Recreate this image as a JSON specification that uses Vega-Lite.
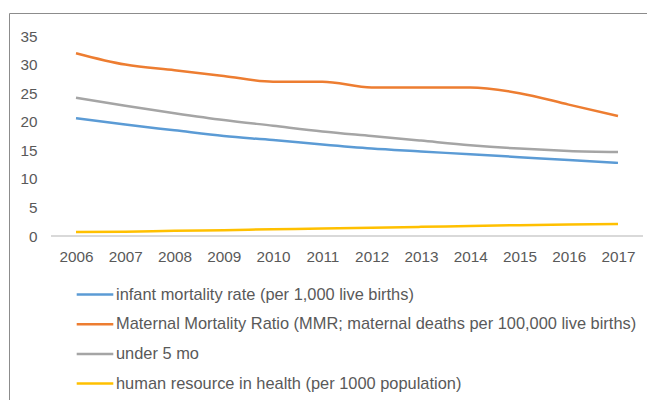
{
  "$schema": "https://vega.github.io/schema/vega-lite/v6.json",
  "width": 676,
  "height": 389,
  "autosize": {"type": "none"},
  "padding": {"left": 9, "top": 13, "right": 0, "bottom": 0},
  "background": "white",
  "config": {
    "font": "Liberation Sans",
    "view": {"stroke": "#8c8c8c", "strokeWidth": 1},
    "axis": {"labelColor": "#595959", "labelFontSize": 15.3, "labelFont": "Liberation Sans"}
  },
  "data": {
    "values": [
      {"year": "2006", "series": "infant mortality rate (per 1,000 live births)", "value": 20.6},
      {"year": "2007", "series": "infant mortality rate (per 1,000 live births)", "value": 19.5},
      {"year": "2008", "series": "infant mortality rate (per 1,000 live births)", "value": 18.5},
      {"year": "2009", "series": "infant mortality rate (per 1,000 live births)", "value": 17.5},
      {"year": "2010", "series": "infant mortality rate (per 1,000 live births)", "value": 16.8},
      {"year": "2011", "series": "infant mortality rate (per 1,000 live births)", "value": 16.0},
      {"year": "2012", "series": "infant mortality rate (per 1,000 live births)", "value": 15.3},
      {"year": "2013", "series": "infant mortality rate (per 1,000 live births)", "value": 14.8},
      {"year": "2014", "series": "infant mortality rate (per 1,000 live births)", "value": 14.3},
      {"year": "2015", "series": "infant mortality rate (per 1,000 live births)", "value": 13.8},
      {"year": "2016", "series": "infant mortality rate (per 1,000 live births)", "value": 13.3},
      {"year": "2017", "series": "infant mortality rate (per 1,000 live births)", "value": 12.8},
      {"year": "2006", "series": "Maternal Mortality Ratio (MMR; maternal deaths per 100,000 live births)", "value": 32},
      {"year": "2007", "series": "Maternal Mortality Ratio (MMR; maternal deaths per 100,000 live births)", "value": 30},
      {"year": "2008", "series": "Maternal Mortality Ratio (MMR; maternal deaths per 100,000 live births)", "value": 29},
      {"year": "2009", "series": "Maternal Mortality Ratio (MMR; maternal deaths per 100,000 live births)", "value": 28},
      {"year": "2010", "series": "Maternal Mortality Ratio (MMR; maternal deaths per 100,000 live births)", "value": 27},
      {"year": "2011", "series": "Maternal Mortality Ratio (MMR; maternal deaths per 100,000 live births)", "value": 27},
      {"year": "2012", "series": "Maternal Mortality Ratio (MMR; maternal deaths per 100,000 live births)", "value": 26},
      {"year": "2013", "series": "Maternal Mortality Ratio (MMR; maternal deaths per 100,000 live births)", "value": 26},
      {"year": "2014", "series": "Maternal Mortality Ratio (MMR; maternal deaths per 100,000 live births)", "value": 26},
      {"year": "2015", "series": "Maternal Mortality Ratio (MMR; maternal deaths per 100,000 live births)", "value": 25},
      {"year": "2016", "series": "Maternal Mortality Ratio (MMR; maternal deaths per 100,000 live births)", "value": 23},
      {"year": "2017", "series": "Maternal Mortality Ratio (MMR; maternal deaths per 100,000 live births)", "value": 21},
      {"year": "2006", "series": "under 5 mo", "value": 24.2},
      {"year": "2007", "series": "under 5 mo", "value": 22.8},
      {"year": "2008", "series": "under 5 mo", "value": 21.5},
      {"year": "2009", "series": "under 5 mo", "value": 20.3},
      {"year": "2010", "series": "under 5 mo", "value": 19.3},
      {"year": "2011", "series": "under 5 mo", "value": 18.3},
      {"year": "2012", "series": "under 5 mo", "value": 17.5},
      {"year": "2013", "series": "under 5 mo", "value": 16.7},
      {"year": "2014", "series": "under 5 mo", "value": 15.9},
      {"year": "2015", "series": "under 5 mo", "value": 15.3},
      {"year": "2016", "series": "under 5 mo", "value": 14.9},
      {"year": "2017", "series": "under 5 mo", "value": 14.7},
      {"year": "2006", "series": "human resource in health (per 1000 population)", "value": 0.7},
      {"year": "2007", "series": "human resource in health (per 1000 population)", "value": 0.75},
      {"year": "2008", "series": "human resource in health (per 1000 population)", "value": 0.9},
      {"year": "2009", "series": "human resource in health (per 1000 population)", "value": 1.0},
      {"year": "2010", "series": "human resource in health (per 1000 population)", "value": 1.2},
      {"year": "2011", "series": "human resource in health (per 1000 population)", "value": 1.3},
      {"year": "2012", "series": "human resource in health (per 1000 population)", "value": 1.45},
      {"year": "2013", "series": "human resource in health (per 1000 population)", "value": 1.6},
      {"year": "2014", "series": "human resource in health (per 1000 population)", "value": 1.75},
      {"year": "2015", "series": "human resource in health (per 1000 population)", "value": 1.9},
      {"year": "2016", "series": "human resource in health (per 1000 population)", "value": 2.0},
      {"year": "2017", "series": "human resource in health (per 1000 population)", "value": 2.1}
    ]
  },
  "encoding": {
    "x": {
      "field": "year",
      "type": "ordinal",
      "scale": {"type": "point", "range": [67, 609], "padding": 0},
      "axis": {"title": null, "labelAngle": 0, "domain": false, "ticks": false, "offset": -166, "labelPadding": 13.5}
    }
  },
  "layer": [
    {
      "mark": {"type": "rule", "color": "#d9d9d9", "strokeWidth": 2, "xOffset": -24.6, "x2Offset": 24.6},
      "encoding": {
        "x": {"datum": "2006", "type": "ordinal"},
        "x2": {"datum": "2017"},
        "y": {"datum": 0, "type": "quantitative"}
      }
    },
    {
      "mark": {"type": "line", "interpolate": "monotone", "strokeWidth": 2.5},
      "encoding": {
        "y": {
          "field": "value",
          "type": "quantitative",
          "scale": {"domain": [-29.05, 39.03], "nice": false, "zero": false},
          "axis": {"title": null, "values": [0, 5, 10, 15, 20, 25, 30, 35], "domain": false, "ticks": false, "grid": false, "offset": -28, "labelPadding": 0}
        },
        "color": {
          "field": "series",
          "type": "nominal",
          "sort": ["infant mortality rate (per 1,000 live births)", "Maternal Mortality Ratio (MMR; maternal deaths per 100,000 live births)", "under 5 mo", "human resource in health (per 1000 population)"],
          "scale": {
            "domain": ["infant mortality rate (per 1,000 live births)", "Maternal Mortality Ratio (MMR; maternal deaths per 100,000 live births)", "under 5 mo", "human resource in health (per 1000 population)"],
            "range": ["#5b9bd5", "#ed7d31", "#a5a5a5", "#ffc000"]
          },
          "legend": {
            "title": null,
            "orient": "none",
            "legendX": 66,
            "legendY": 261.5,
            "direction": "vertical",
            "symbolType": "stroke",
            "symbolSize": 1340,
            "symbolStrokeWidth": 2.5,
            "labelFontSize": 16.4,
            "labelColor": "#595959",
            "labelFont": "Liberation Sans",
            "labelOffset": 1,
            "labelLimit": 700,
            "rowPadding": 0.7,
            "padding": 0
          }
        }
      }
    }
  ]
}
